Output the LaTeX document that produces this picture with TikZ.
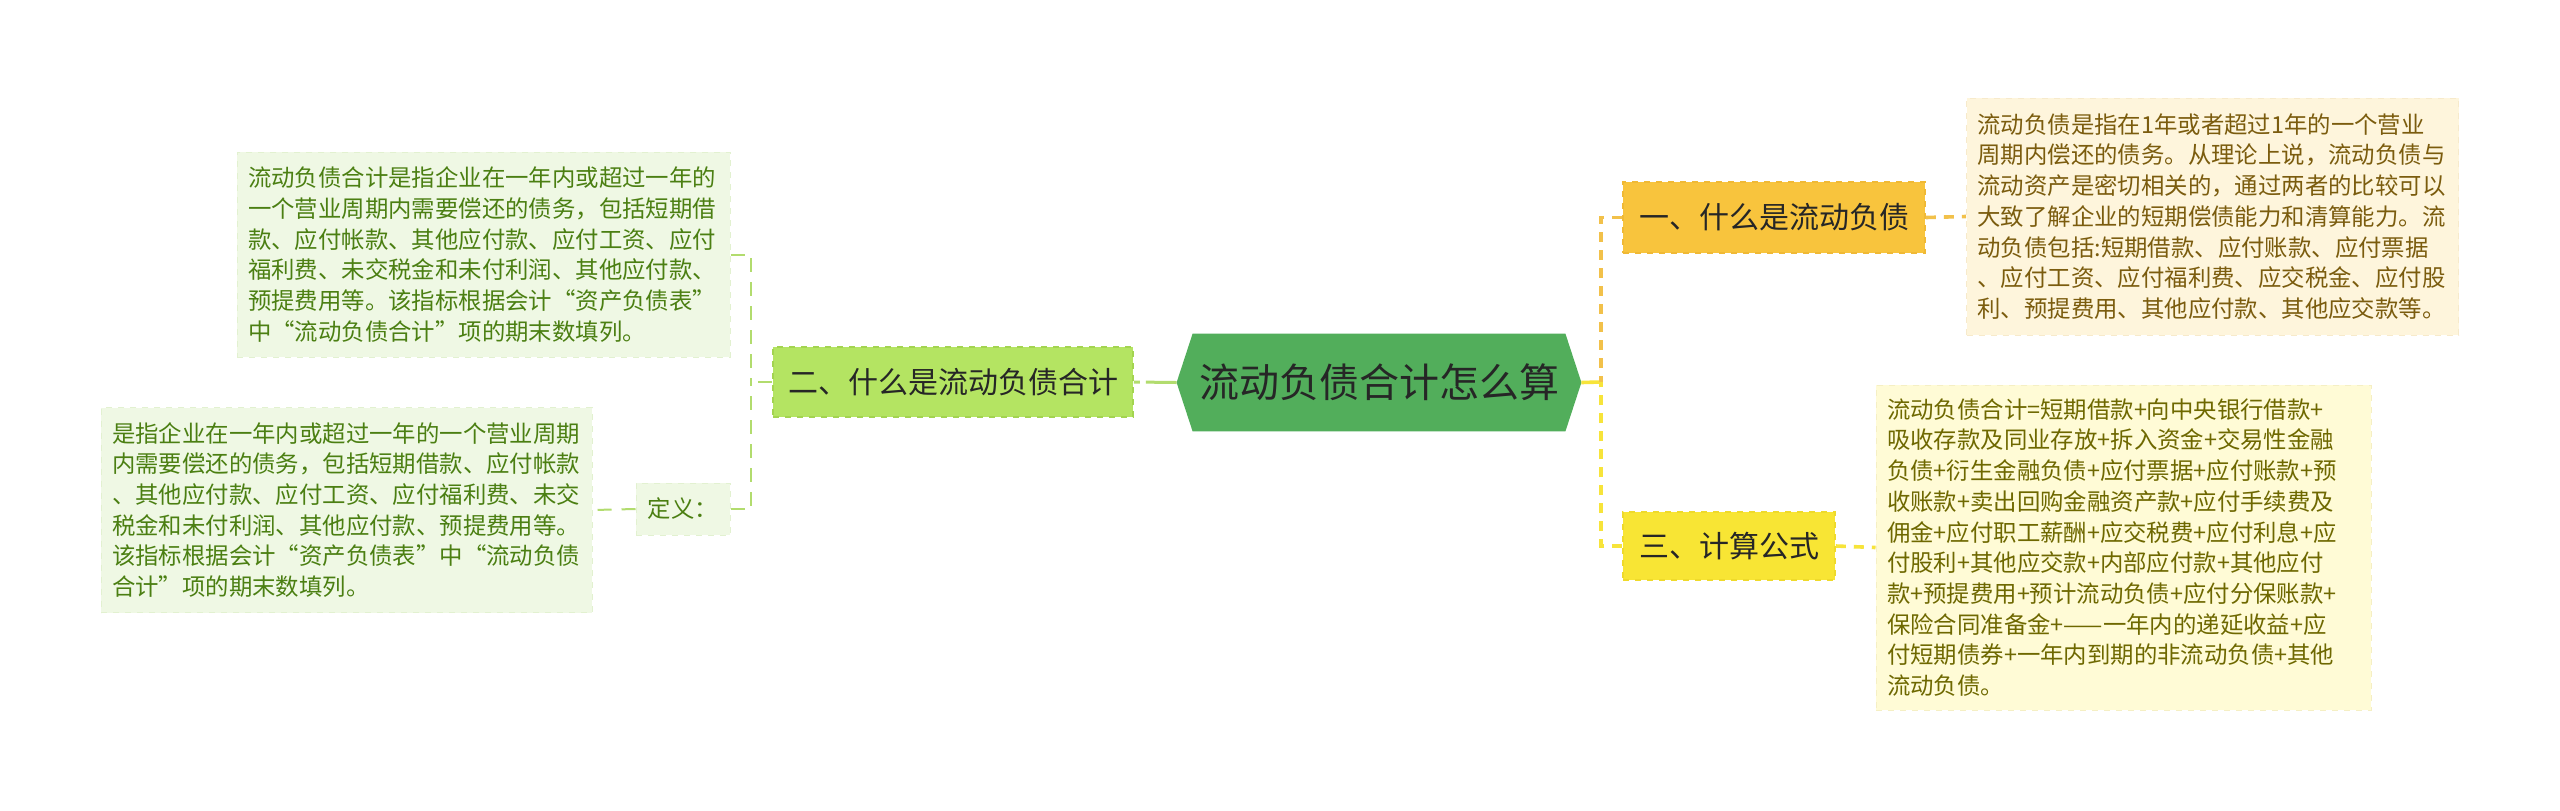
\documentclass[tikz,border=0pt]{standalone}
\usepackage{fontspec}
\setmainfont{Noto Sans CJK SC}
\usetikzlibrary{calc,backgrounds}
\definecolor{cfill}{HTML}{52AE5B}
\definecolor{darktxt}{HTML}{262626}
\definecolor{erfill}{HTML}{B4E462}
\definecolor{erdraw}{HTML}{A3D450}
\definecolor{gbox}{HTML}{EFF8E4}
\definecolor{gboxd}{HTML}{E2F1D0}
\definecolor{gtxt}{HTML}{4B7F12}
\definecolor{gline}{HTML}{B2DC6E}
\definecolor{yifill}{HTML}{F8C43D}
\definecolor{yidraw}{HTML}{F0B935}
\definecolor{obox}{HTML}{FEF5DC}
\definecolor{oboxd}{HTML}{F7EACB}
\definecolor{otxt}{HTML}{7B5C0E}
\definecolor{oline}{HTML}{F2C14A}
\definecolor{sanfill}{HTML}{F8E534}
\definecolor{sandraw}{HTML}{EFDA2A}
\definecolor{ybox}{HTML}{FFFBD6}
\definecolor{yboxd}{HTML}{F5EFC4}
\definecolor{ytxt}{HTML}{6E6800}
\definecolor{yline}{HTML}{F7E43A}
\begin{document}
\begin{tikzpicture}[x=0.5pt,y=-0.5pt,
  txtbox/.style={rectangle, align=left, inner xsep=5.5pt, inner ysep=2pt,
    font=\fontsize{11.7pt}{15.35pt}\selectfont, dashed, line width=0.5pt},
  topic/.style={rectangle, inner sep=0pt, text=darktxt, dashed, line width=0.8pt,
    font=\fontsize{15pt}{18pt}\selectfont},
  lconn/.style={gline, line width=1pt, dash pattern=on 7pt off 5pt},
  oconn/.style={oline, line width=1.8pt, dash pattern=on 5pt off 4pt},
  yconn/.style={yline, line width=1.8pt, dash pattern=on 5pt off 4pt}
]
\useasboundingbox (0,0) rectangle (2560,810);
\begin{scope}[on background layer]
\fill[white] (0,0) rectangle (2560,810);
\end{scope}

% central node
\node[inner sep=0pt, minimum width=186pt, minimum height=48.5pt, text=darktxt,
  font=\fontsize{20pt}{24pt}\selectfont] (c) at (1379,382.5) {流动负债合计怎么算};
\coordinate (cL) at ($(c.west)+(-16,0)$);
\coordinate (cR) at ($(c.east)+(16,0)$);
\begin{scope}[on background layer]
\fill[cfill] (c.north west) -- (c.north east) -- (cR) -- (c.south east) -- (c.south west) -- (cL) -- cycle;
\end{scope}

% left branch
\node[topic, fill=erfill, draw=erdraw, minimum width=180pt, minimum height=35pt] (er) at (953,382) {二、什么是流动负债合计};
\node[txtbox, fill=gbox, draw=gboxd, text=gtxt, text width=235.5pt, minimum height=102.5pt] (tl) at (483.5,254.5)
{流动负债合计是指企业在一年内或超过一年的\\一个营业周期内需要偿还的债务，包括短期借\\款、应付帐款、其他应付款、应付工资、应付\\福利费、未交税金和未付利润、其他应付款、\\预提费用等。该指标根据会计“资产负债表”\\中“流动负债合计”项的期末数填列。};
\node[rectangle, fill=gbox, draw=gboxd, dashed, line width=0.5pt, text=gtxt, inner sep=0pt,
  minimum width=47pt, minimum height=26pt, font=\fontsize{11.7pt}{14pt}\selectfont] (def) at (683,509) {定义：};
\node[txtbox, fill=gbox, draw=gboxd, text=gtxt, text width=234.5pt, minimum height=102.5pt] (bl) at (346.5,510)
{是指企业在一年内或超过一年的一个营业周期\\内需要偿还的债务，包括短期借款、应付帐款\\、其他应付款、应付工资、应付福利费、未交\\税金和未付利润、其他应付款、预提费用等。\\该指标根据会计“资产负债表”中“流动负债\\合计”项的期末数填列。};

\coordinate (jl) at (751,382);
\draw[gline, line width=1.5pt, dash pattern=on 3pt off 3pt on 40pt] (er.east) -- (cL);
\draw[lconn] (er.west) -- (jl);
\draw[lconn] (tl.east) -| (jl);
\draw[lconn] (def.east) -| (jl);
\draw[lconn] (def.west) -- (bl.east);

% right branch
\node[topic, fill=yifill, draw=yidraw, minimum width=151pt, minimum height=35.5pt] (yi) at (1774,217.5) {一、什么是流动负债};
\node[txtbox, fill=obox, draw=oboxd, text=otxt, text width=235pt, minimum height=118.5pt] (tr) at (2212.5,216.5)
{流动负债是指在1年或者超过1年的一个营业\\周期内偿还的债务。从理论上说，流动负债与\\流动资产是密切相关的，通过两者的比较可以\\大致了解企业的短期偿债能力和清算能力。流\\动负债包括:短期借款、应付账款、应付票据\\、应付工资、应付福利费、应交税金、应付股\\利、预提费用、其他应付款、其他应交款等。};
\node[topic, fill=sanfill, draw=sandraw, minimum width=106pt, minimum height=34pt] (san) at (1729,546) {三、计算公式};
\node[txtbox, fill=ybox, draw=yboxd, text=ytxt, text width=236.5pt, minimum height=162.5pt] (br) at (2123.5,547.5)
{流动负债合计=短期借款+向中央银行借款+\\吸收存款及同业存放+拆入资金+交易性金融\\负债+衍生金融负债+应付票据+应付账款+预\\收账款+卖出回购金融资产款+应付手续费及\\佣金+应付职工薪酬+应交税费+应付利息+应\\付股利+其他应交款+内部应付款+其他应付\\款+预提费用+预计流动负债+应付分保账款+\\保险合同准备金+——一年内的递延收益+应\\付短期债券+一年内到期的非流动负债+其他\\流动负债。};

\coordinate (jr) at (1601,382);
\draw[yline, line width=1.8pt] (cR) -- (jr);
\draw[oconn] (yi.west) -| (jr);
\draw[yconn] (san.west) -| (jr);
\draw[oconn] (yi.east) -- (tr.west);
\draw[yconn] (san.east) -- (br.west);
\end{tikzpicture}
\end{document}
